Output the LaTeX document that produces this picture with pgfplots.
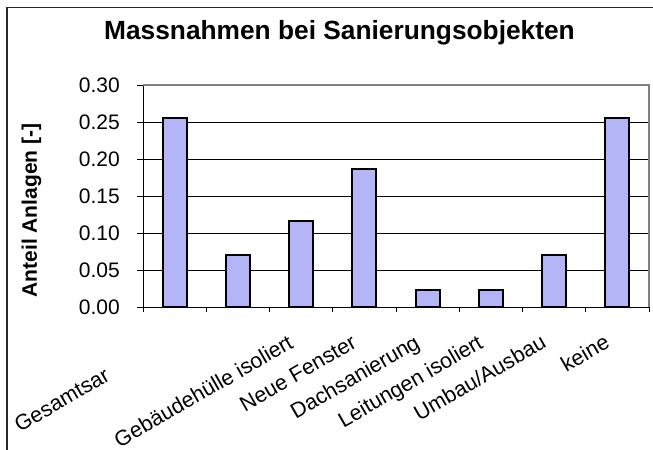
\documentclass[border=0pt]{standalone}
\usepackage{fontspec}
\setmainfont{Liberation Sans}
\usepackage{pgfplots}
\pgfplotsset{compat=1.18}
\definecolor{barblue}{RGB}{180,181,246}
\definecolor{framegray}{RGB}{128,128,128}
\begin{document}
\begin{tikzpicture}
\useasboundingbox (0,0) rectangle (653bp,-450bp);
\fill[white] (0,0) rectangle (653bp,-450bp);
\draw[line width=1.5bp, black!85] (7bp,-450bp) -- (7bp,-7.7bp) -- (653bp,-7.7bp);
\node[anchor=base west, inner sep=0pt, font=\fontsize{26.3bp}{31bp}\selectfont\bfseries] at (104bp,-39.3bp) {Massnahmen bei Sanierungsobjekten};
\begin{axis}[
  at={(143bp,-307bp)}, anchor=south west,
  scale only axis, width=506bp, height=222bp,
  xmin=-0.5, xmax=7.5, ymin=0, ymax=0.3,
  enlargelimits=false, clip=false,
  axis lines*=left,
  axis line style={-, black, line width=1bp},
  ybar, bar width=24bp,
  ytick={0,0.05,0.1,0.15,0.2,0.25,0.3},
  yticklabel style={/pgf/number format/fixed, /pgf/number format/fixed zerofill, /pgf/number format/precision=2, /pgf/number format/assume math mode=true},
  yticklabel style={font=\fontsize{21bp}{25bp}\selectfont, anchor=east, inner sep=0pt, xshift=-17bp},
  tick align=outside,
  major tick length=6bp,
  minor tick length=5bp,
  major y tick style={black, line width=0.8bp},
  major x tick style={draw=none},
  minor x tick style={black, line width=0.8bp},
  xtick={0,1,2,3,4,5,6,7},
  minor xtick={-0.5,0.5,1.5,2.5,3.5,4.5,5.5,6.5,7.5},
  xticklabels={Gesamtsar\kern66bp,{},Gebäudehülle isoliert,Neue Fenster,Dachsanierung,Leitungen isoliert,Umbau/Ausbau,keine},
  xticklabel style={font=\fontsize{21.5bp}{25bp}\selectfont, inner sep=0pt, outer sep=0pt, xshift=-6.5bp, yshift=-34bp, rotate=30, anchor=base east},
  ymajorgrids,
  major grid style={black, line width=0.8bp},
  every axis y label/.style={at={(axis description cs:0,0.5)}, xshift=-106bp, yshift=-14.5bp, rotate=90, anchor=base, inner sep=0pt, font=\fontsize{21bp}{25bp}\selectfont\bfseries},
  ylabel={Anteil Anlagen [-]},
]
\addplot[bar shift=0pt, fill=barblue, draw=black, line width=1.8bp] coordinates {
  (0,0.2558) (1,0.0698) (2,0.1163) (3,0.1860) (4,0.0233) (5,0.0233) (6,0.0698) (7,0.2558)
};
\draw[framegray, line width=1.2bp] (rel axis cs:0,1) -- (rel axis cs:1,1) -- (rel axis cs:1,0);
\end{axis}
\end{tikzpicture}
\end{document}
